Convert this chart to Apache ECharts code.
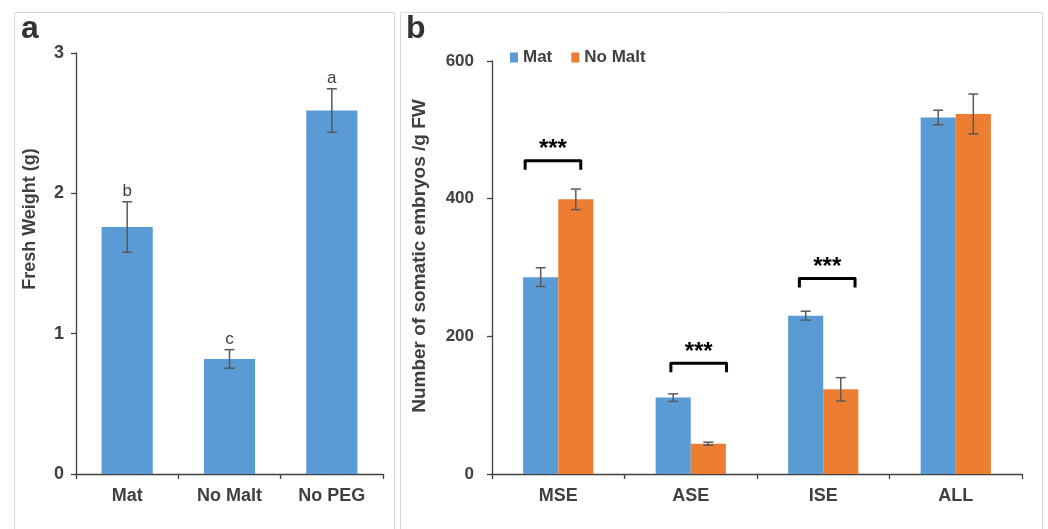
<!DOCTYPE html>
<html><head><meta charset="utf-8">
<script src="https://cdn.jsdelivr.net/npm/echarts@6/dist/echarts.min.js"></script>
<style>html,body{margin:0;padding:0;background:#fff}#c{width:1048px;height:529px}</style>
</head><body><div id="c"></div>
<script>
// ---- Panel a data ----
const catsA = ['Mat', 'No Malt', 'No PEG'];
const fwMean = [1.76, 0.82, 2.59];
const fwErr = [0.18, 0.066, 0.155];
const fwLetters = ['b', 'c', 'a'];
const yTicksA = [0, 1, 2, 3];

// ---- Panel b data ----
const catsB = ['MSE', 'ASE', 'ISE', 'ALL'];
const seriesNames = ['Mat', 'No Malt'];
const matMean = [286, 111, 230, 518];
const matErr = [13.6, 5.5, 6.5, 10.5];
const noMaltMean = [399, 44, 123, 523];
const noMaltErr = [15, 2.2, 17, 29];
const yTicksB = [0, 200, 400, 600];
const sigCats = [0, 1, 2];
const sigLevels = [455, 161, 284];
const sigText = ['***', '***', '***'];

// ---- layout constants (not data) ----
const FONT = 'Liberation Sans, Arial, sans-serif';
const TXT = '#404040';
const AX = '#404040';
const BLUE = '#5b9bd5';
const ORANGE = '#ed7d31';
const bracketSpan = [[-0.25, 0.17], [-0.15, 0.27], [-0.18, 0.24]];

function errData(mean, err, extra) {
  return mean.map((m, i) => [i, m - err[i], m + err[i], extra ? extra[i] : '']);
}
function errRender(offsetFrac, capW, withText) {
  return function (params, api) {
    const i = api.value(0);
    const lo = api.coord([i, api.value(1)]);
    const hi = api.coord([i, api.value(2)]);
    const band = api.size([1, 0])[0];
    const x = lo[0] + offsetFrac * band;
    const st = { stroke: '#595959', lineWidth: 1.5 };
    const ch = [
      { type: 'line', shape: { x1: x, y1: lo[1], x2: x, y2: hi[1] }, style: st },
      { type: 'line', shape: { x1: x - capW, y1: lo[1], x2: x + capW, y2: lo[1] }, style: st },
      { type: 'line', shape: { x1: x - capW, y1: hi[1], x2: x + capW, y2: hi[1] }, style: st }
    ];
    if (withText) {
      ch.push({ type: 'text', style: { text: String(api.value(3)), x: x, y: hi[1] - 2,
        align: 'center', verticalAlign: 'bottom', font: '17px ' + FONT, fill: TXT } });
    }
    return { type: 'group', children: ch };
  };
}
function bracketRender(params, api) {
  const i = api.value(0);
  const c = api.coord([i, api.value(1)]);
  const band = api.size([1, 0])[0];
  const sp = bracketSpan[params.dataIndex];
  const x1 = c[0] + sp[0] * band, x2 = c[0] + sp[1] * band, y = c[1];
  return { type: 'group', children: [
    { type: 'polyline', shape: { points: [[x1, y + 9], [x1, y], [x2, y], [x2, y + 9]] },
      style: { stroke: '#000', lineWidth: 3, fill: 'none', lineJoin: 'round' } },
    { type: 'text', style: { text: sigText[params.dataIndex], x: (x1 + x2) / 2, y: y - 11,
      align: 'center', verticalAlign: 'middle', font: 'bold 24px ' + FONT, fill: '#000' } }
  ] };
}

const chart = echarts.init(document.getElementById('c'), null, { renderer: 'canvas' });
const axisLineStyle = { show: true, lineStyle: { color: AX, width: 1.3 } };
const tick = { show: true, length: 5, lineStyle: { color: AX, width: 1.3 } };

chart.setOption({
  animation: false,
  backgroundColor: '#fff',
  textStyle: { fontFamily: FONT },
  graphic: [
    { type: 'rect', shape: { x: 14.5, y: 12.5, width: 380, height: 540 }, style: { fill: 'none', stroke: '#d9d9d9', lineWidth: 1 } },
    { type: 'rect', shape: { x: 400.5, y: 12.5, width: 642, height: 540 }, style: { fill: 'none', stroke: '#d9d9d9', lineWidth: 1 } },
    { type: 'text', style: { text: 'a', x: 21, y: 45, verticalAlign: 'bottom', font: 'bold 32px ' + FONT, fill: '#333' } },
    { type: 'text', style: { text: 'b', x: 406, y: 45, verticalAlign: 'bottom', font: 'bold 32px ' + FONT, fill: '#333' } },
    { type: 'text', x: 30.5, y: 219, rotation: Math.PI / 2,
      style: { text: 'Fresh Weight (g)', align: 'center', verticalAlign: 'middle', font: 'bold 18px ' + FONT, fill: TXT } },
    { type: 'text', x: 419.5, y: 256, rotation: Math.PI / 2,
      style: { text: 'Number of somatic embryos /g FW', align: 'center', verticalAlign: 'middle', font: 'bold 19px ' + FONT, fill: TXT } }
  ],
  legend: {
    data: seriesNames, left: 505, top: 44, icon: 'rect', itemWidth: 8, itemHeight: 10, itemGap: 19,
    textStyle: { fontSize: 17, fontWeight: 'bold', color: TXT, fontFamily: FONT }
  },
  grid: [
    { left: 76, top: 53, width: 307, height: 421 },
    { left: 492, top: 61, width: 530, height: 413 }
  ],
  xAxis: [
    { type: 'category', gridIndex: 0, data: catsA, axisLine: axisLineStyle, axisTick: tick,
      axisLabel: { margin: 13, fontSize: 18, fontWeight: 'bold', color: TXT, fontFamily: FONT } },
    { type: 'category', gridIndex: 1, data: catsB, axisLine: axisLineStyle, axisTick: tick,
      axisLabel: { margin: 13, fontSize: 18, fontWeight: 'bold', color: TXT, fontFamily: FONT } }
  ],
  yAxis: [
    { type: 'value', gridIndex: 0, min: yTicksA[0], max: yTicksA[yTicksA.length - 1], interval: yTicksA[1] - yTicksA[0],
      axisLine: axisLineStyle, axisTick: tick, splitLine: { show: false },
      axisLabel: { margin: 12, fontSize: 18, fontWeight: 'bold', color: TXT, fontFamily: FONT } },
    { type: 'value', gridIndex: 1, min: yTicksB[0], max: yTicksB[yTicksB.length - 1], interval: yTicksB[1] - yTicksB[0],
      axisLine: axisLineStyle, axisTick: tick, splitLine: { show: false },
      axisLabel: { margin: 18, fontSize: 17, fontWeight: 'bold', color: TXT, fontFamily: FONT } }
  ],
  series: [
    { name: 'Fresh Weight', type: 'bar', xAxisIndex: 0, yAxisIndex: 0, data: fwMean,
      barCategoryGap: '50%', itemStyle: { color: BLUE } },
    { type: 'custom', xAxisIndex: 0, yAxisIndex: 0, z: 5, data: errData(fwMean, fwErr, fwLetters),
      renderItem: errRender(0, 5, true), encode: { x: 0, y: [1, 2] } },
    { name: seriesNames[0], type: 'bar', xAxisIndex: 1, yAxisIndex: 1, data: matMean,
      barGap: '0%', barCategoryGap: '47%', itemStyle: { color: BLUE } },
    { name: seriesNames[1], type: 'bar', xAxisIndex: 1, yAxisIndex: 1, data: noMaltMean,
      barGap: '0%', barCategoryGap: '47%', itemStyle: { color: ORANGE } },
    { type: 'custom', xAxisIndex: 1, yAxisIndex: 1, z: 5, data: errData(matMean, matErr),
      renderItem: errRender(-0.1325, 5, false), encode: { x: 0, y: [1, 2] } },
    { type: 'custom', xAxisIndex: 1, yAxisIndex: 1, z: 5, data: errData(noMaltMean, noMaltErr),
      renderItem: errRender(0.1325, 5, false), encode: { x: 0, y: [1, 2] } },
    { type: 'custom', xAxisIndex: 1, yAxisIndex: 1, z: 5, data: sigCats.map((c, k) => [c, sigLevels[k]]),
      renderItem: bracketRender, encode: { x: 0, y: 1 } }
  ]
});
</script>
</body></html>
